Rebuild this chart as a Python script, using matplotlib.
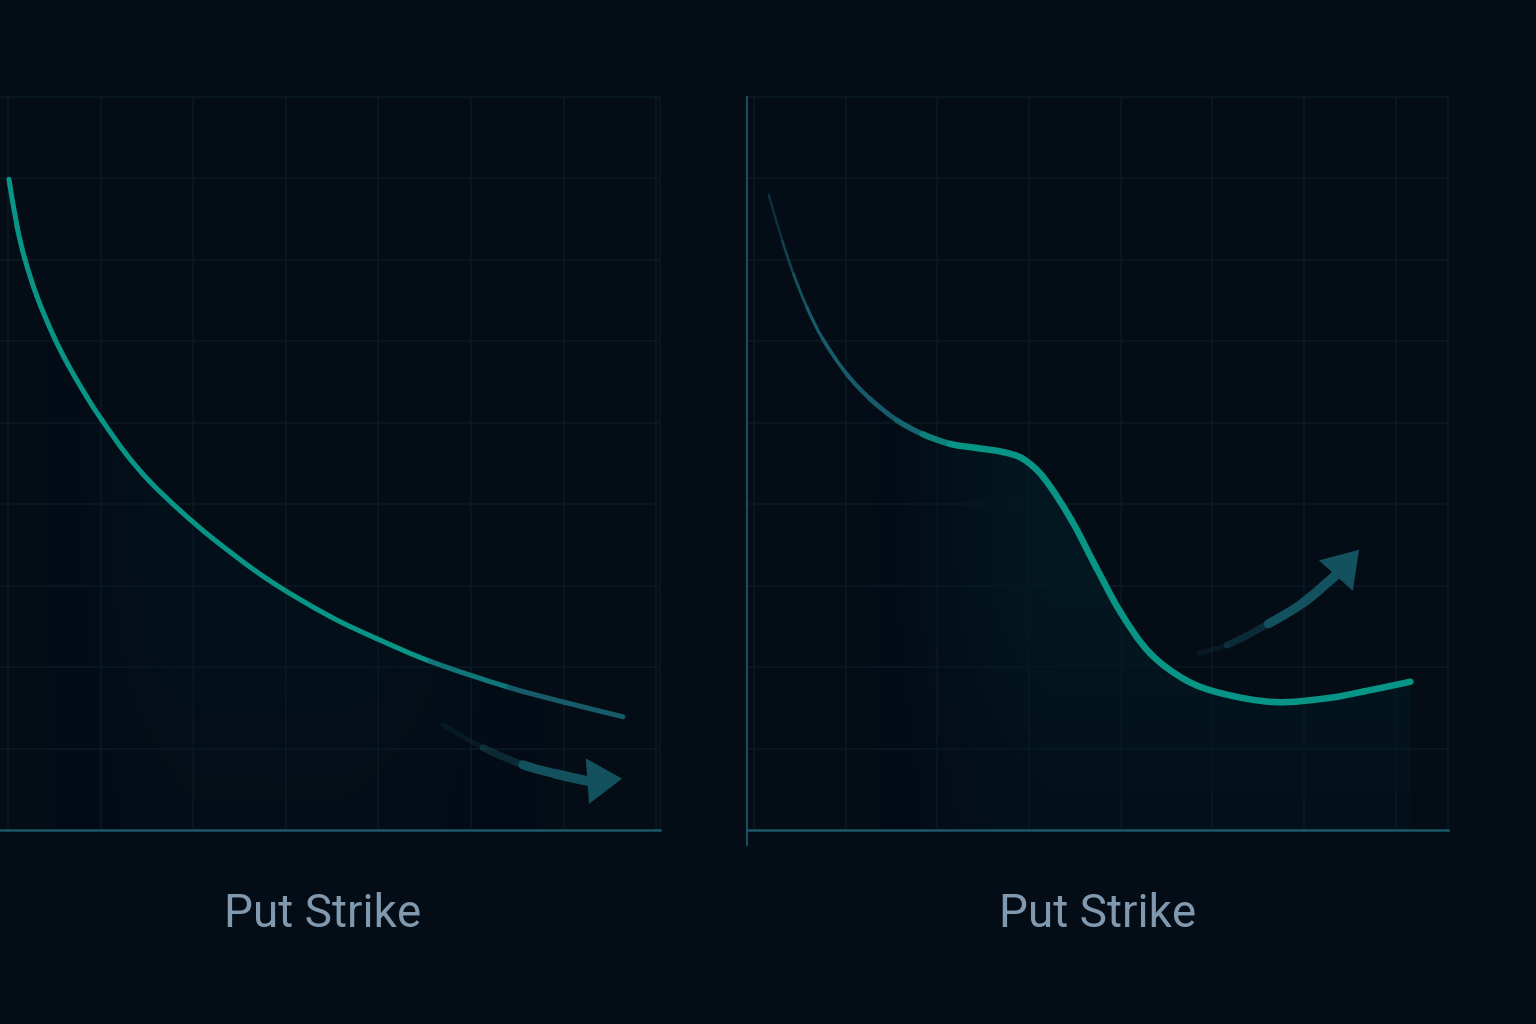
import numpy as np
import matplotlib.pyplot as plt
from matplotlib.path import Path
from matplotlib.patches import PathPatch
from matplotlib.colors import to_rgb

# 背景与配色
BG = '#040c16'
GRID = '#0a1a24'
AXIS = '#1b5768'
TEAL = '#089585'
DIM = '#175b6b'
ARROW = '#14515f'
LABEL = '#8199ae'

# 左图: 单调下降的曲线 (网格单位)
left_x = [0.01, 0.10, 0.18, 0.31, 0.49, 0.65, 0.85, 1.01, 1.28, 1.53, 1.86, 2.21, 2.80,
          3.48, 3.98, 4.56, 5.41, 6.00, 6.64]
left_y = [7.99, 7.40, 7.02, 6.56, 6.07, 5.71, 5.32, 5.04, 4.61, 4.28, 3.92, 3.58, 3.08,
          2.62, 2.35, 2.07, 1.75, 1.57, 1.39]

# 右图: 带平台和下凹的曲线
right_x = [0.16, 0.31, 0.43, 0.58, 0.75, 1.01, 1.26, 1.56, 1.84, 2.14, 2.43, 2.72, 2.93,
           3.15, 3.46, 3.73, 4.00, 4.32, 4.71, 5.09, 5.68, 6.27, 6.65, 7.16]
right_y = [7.80, 7.23, 6.83, 6.41, 6.03, 5.60, 5.30, 5.03, 4.86, 4.74, 4.69, 4.64, 4.56,
           4.34, 3.81, 3.23, 2.67, 2.17, 1.84, 1.68, 1.57, 1.62, 1.70, 1.82]

# 箭头路径
left_arrow_x = [4.70, 5.13, 5.56, 5.91, 6.26]
left_arrow_y = [1.29, 1.01, 0.80, 0.69, 0.60]
left_arrow_tip = (6.63, 0.63)
right_arrow_x = [4.86, 5.16, 5.61, 5.99, 6.36]
right_arrow_y = [2.17, 2.27, 2.53, 2.79, 3.14]
right_arrow_tip = (6.60, 3.44)

x_ticks = range(0, 8)
y_ticks = range(0, 10)
label_text = 'Put Strike'


def bezier_pieces(xs, ys):
    # 弦长参数化的 Catmull-Rom, 转成逐段三次贝塞尔
    p = np.column_stack([xs, ys]).astype(float)
    n = len(p)
    d = np.hypot(*np.diff(p, axis=0).T)
    tang = np.zeros_like(p)
    tang[0] = (p[1] - p[0]) / d[0]
    tang[-1] = (p[-1] - p[-2]) / d[-1]
    for i in range(1, n - 1):
        tang[i] = (p[i + 1] - p[i - 1]) / (d[i - 1] + d[i])
    pieces = []
    for i in range(n - 1):
        b = p[i]
        c = p[i + 1]
        pieces.append([b, b + tang[i] * d[i] / 3, c - tang[i + 1] * d[i] / 3, c])
    return pieces


def mix(c1, c2, t):
    t = min(max(t, 0), 1)
    a = np.array(to_rgb(c1))
    b = np.array(to_rgb(c2))
    return tuple(a + (b - a) * t)


def draw_pieces(ax, pieces, colors, widths, alphas=None, z=4):
    for k, pc in enumerate(pieces):
        path = Path(pc, [Path.MOVETO, Path.CURVE4, Path.CURVE4, Path.CURVE4])
        a = 1 if alphas is None else alphas[k]
        ax.add_patch(PathPatch(path, fc='none', ec=colors[k], lw=widths[k], alpha=a,
                               capstyle='round', joinstyle='round', zorder=z))


def fill_path(pieces, xs):
    verts = [pieces[0][0]]
    codes = [Path.MOVETO]
    for pc in pieces:
        verts += [pc[1], pc[2], pc[3]]
        codes += [Path.CURVE4] * 3
    verts += [(xs[-1], 0), (xs[0], 0), (xs[0], 0)]
    codes += [Path.LINETO, Path.LINETO, Path.CLOSEPOLY]
    return Path(verts, codes)


def smooth(t):
    t = np.clip(t, 0, 1)
    return t * t * (3 - 2 * t)


def gradient_fill(ax, path, xlim, alpha_fn):
    gx = np.linspace(xlim[0], xlim[1], 400)
    gy = np.linspace(0, 9, 300)
    X, Y = np.meshgrid(gx, gy)
    img = np.zeros((300, 400, 4))
    img[..., :3] = (0.014, 0.105, 0.14)
    img[..., 3] = alpha_fn(X, Y)
    im = ax.imshow(img, extent=(xlim[0], xlim[1], 0, 9), origin='lower', aspect='auto',
                   interpolation='bilinear', zorder=1)
    im.set_clip_path(PathPatch(path, transform=ax.transData))


def draw_arrow(ax, xs, ys, tip, alphas, widths):
    pcs = bezier_pieces(xs, ys)
    draw_pieces(ax, pcs, [ARROW] * len(pcs), widths, alphas, z=3)
    ax.annotate('', xy=tip, xytext=(xs[-1], ys[-1]),
                arrowprops=dict(arrowstyle='-|>,head_length=1.25,head_width=0.82',
                                mutation_scale=20, lw=0, fc=ARROW, ec='none',
                                shrinkA=0, shrinkB=0), zorder=3)


def style_axes(ax, xlim):
    ax.set_facecolor(BG)
    ax.set_xlim(*xlim)
    ax.set_ylim(0, 9)
    ax.set_xticks(list(x_ticks))
    ax.set_yticks(list(y_ticks))
    ax.tick_params(length=0, labelbottom=False, labelleft=False)
    ax.grid(True, color=GRID, lw=1.1)
    ax.set_axisbelow(True)
    for s in ['top', 'right']:
        ax.spines[s].set_color(GRID)
        ax.spines[s].set_linewidth(1.1)
    ax.spines['bottom'].set_color(AXIS)
    ax.spines['bottom'].set_linewidth(1.8)


fig = plt.figure(figsize=(15.36, 10.24), dpi=100, facecolor=BG)

# ---------- 左图 ----------
ax1 = fig.add_axes([0.0, 0.1895, 0.4297, 0.7158])
xlim1 = (-0.086, 7.04)
style_axes(ax1, xlim1)
ax1.spines['left'].set_visible(False)

lp = bezier_pieces(left_x, left_y)
gradient_fill(ax1, fill_path(lp, left_x), xlim1,
              lambda X, Y: 0.35 * smooth((X - 0.3) / 1.8) * smooth((6.0 - X) / 2.5)
              * (0.4 + 0.6 * smooth(Y / 3.5)))
c1 = [mix(TEAL, DIM, (0.5 * (p[0][0] + p[3][0]) - 4.4) / 1.1) for p in lp]
draw_pieces(ax1, lp, c1, [3.6] * len(lp))
draw_arrow(ax1, left_arrow_x, left_arrow_y, left_arrow_tip,
           [0.2, 0.45, 1, 1], [3.5, 5, 6.5, 7])
ax1.text(323 / 660, (830 - 927) / 733, label_text, transform=ax1.transAxes,
         ha='center', va='baseline', fontsize=33, color=LABEL, family='Roboto')

# ---------- 右图 ----------
ax2 = fig.add_axes([747 / 1536, 0.1895, 701 / 1536, 0.7158])
xlim2 = (-0.076, 7.57)
style_axes(ax2, xlim2)
ax2.spines['left'].set_visible(False)
ax2.plot([0, 0], [-0.0205, 1], transform=ax2.transAxes, color=AXIS, lw=1.3,
         clip_on=False, zorder=5)

rp = bezier_pieces(right_x, right_y)
gradient_fill(ax2, fill_path(rp, right_x), xlim2,
              lambda X, Y: 0.85 * smooth((X - 1.2) / 2.2)
              * (0.4 + 0.6 * smooth(Y / 3.5)))
c2 = []
w2 = []
for p in rp:
    xm = 0.5 * (p[0][0] + p[3][0])
    if xm < 0.6:
        c2.append(mix('#0a2a34', DIM, (xm - 0.15) / 0.45))
    else:
        c2.append(mix(DIM, TEAL, (xm - 1.6) / 0.6))
    w2.append(1.5 + 3.2 * min(max((xm - 0.15) / 2.0, 0), 1))
draw_pieces(ax2, rp, c2, w2)
draw_arrow(ax2, right_arrow_x, right_arrow_y, right_arrow_tip,
           [0.2, 0.45, 1, 1], [3.5, 5, 6.5, 7])
ax2.text((1098 - 747) / 701, (830 - 927) / 733, label_text, transform=ax2.transAxes,
         ha='center', va='baseline', fontsize=33, color=LABEL, family='Roboto')

fig.savefig('out.png', dpi=100, facecolor=BG)
